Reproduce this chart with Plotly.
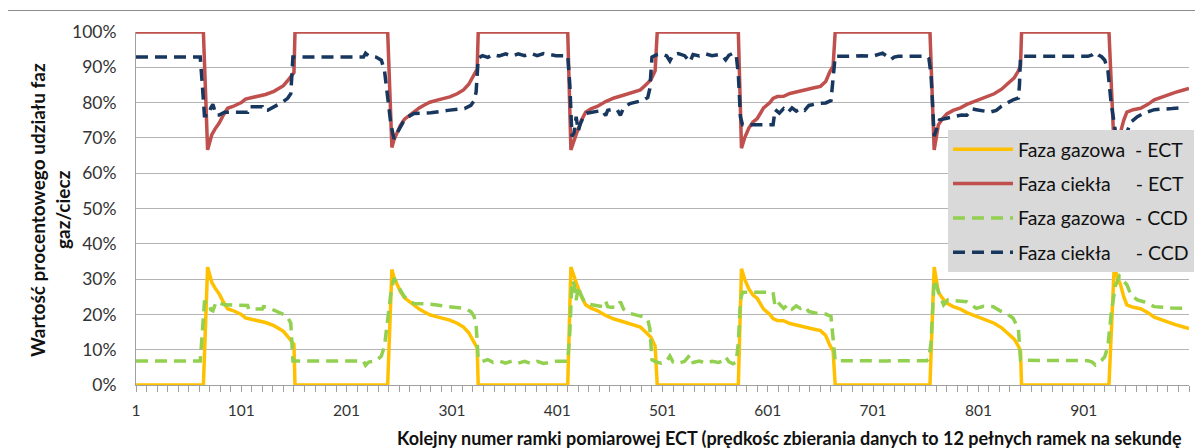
import plotly.graph_objects as go

# ---------------- data (frame number, percent) ----------------
FAZA_GAZOWA_ECT = [
    (1, 0), (65, 0), (69, 33.4), (71, 31), (73, 29.1), (76, 27.5), (80, 25.8), (84, 23.5), (88, 21.6),
    (93, 21.1), (97, 20.6), (101, 20), (105, 19), (110, 18.7), (116, 18.3), (124, 17.7), (132, 16.8),
    (137, 16), (141, 15.2), (145, 13.8), (149, 12.4), (151, 11.5), (152, 0),
    (240, 0), (244, 32.7), (246, 30.5), (249, 28.5), (252, 26.5), (256, 24.7), (260, 23.7), (265, 22.5),
    (270, 21.5), (274, 20.8), (280, 19.9), (287, 19.3), (293, 18.9), (299, 18.4), (306, 17.5), (312, 16.4),
    (317, 14.8), (322, 11.8), (325, 10.5), (326, 0),
    (411, 0), (414, 33.4), (417, 30.5), (420, 28.2), (424, 25), (428, 22.7), (433, 21.8), (439, 21.1),
    (447, 19.7), (455, 18.7), (463, 18), (471, 17.3), (480, 16.4), (485, 15), (490, 13.5), (494, 11), (496, 0),
    (573, 0), (576, 32.9), (579, 30), (583, 27.2), (587, 25.5), (591, 24.5), (597, 21.5), (603, 20),
    (606, 18.8), (610, 18.3), (616, 18.2), (622, 17.4), (628, 17), (635, 16.4), (645, 15.8), (651, 15.4),
    (656, 14), (660, 11.2), (663, 9.7), (665, 0),
    (755, 0), (759, 33.4), (761, 29.5), (763, 26.3), (767, 24.5), (771, 23.2), (777, 22.2), (784, 21.5),
    (790, 20.5), (796, 19.8), (803, 19.2), (809, 18.5), (816, 17.5), (823, 16.2), (829, 14.5), (835, 13),
    (839, 11), (841, 9.5), (842, 0),
    (925, 0), (930, 33.6), (933, 30.5), (936, 28.4), (939, 25), (942, 22.7), (948, 22), (955, 21.6),
    (962, 20.5), (968, 19.2), (974, 18.5), (980, 17.8), (988, 17.1), (995, 16.5), (1001, 16),
]

FAZA_CIEKLA_ECT = [
    (1, 100), (65, 100), (69, 66.6), (71, 69), (73, 70.9), (76, 72.5), (80, 74.2), (84, 76.5), (88, 78.4),
    (93, 78.9), (97, 79.4), (101, 80), (105, 81), (110, 81.3), (116, 81.7), (124, 82.3), (132, 83.2),
    (137, 84), (141, 84.8), (145, 86.2), (149, 87.6), (151, 88.5), (152, 100),
    (240, 100), (244, 67.3), (246, 69.5), (249, 71.5), (252, 73.5), (256, 75.3), (260, 76.3), (265, 77.5),
    (270, 78.5), (274, 79.2), (280, 80.1), (287, 80.7), (293, 81.1), (299, 81.6), (306, 82.5), (312, 83.6),
    (317, 85.2), (322, 88.2), (325, 89.5), (326, 100),
    (411, 100), (414, 66.6), (417, 69.5), (420, 71.8), (424, 75), (428, 77.3), (433, 78.2), (439, 78.9),
    (447, 80.3), (455, 81.3), (463, 82), (471, 82.7), (480, 83.6), (485, 85), (490, 86.5), (494, 89), (496, 100),
    (573, 100), (576, 67.1), (579, 70), (583, 72.8), (587, 74.5), (591, 75.5), (597, 78.5), (603, 80),
    (606, 81.2), (610, 81.7), (616, 81.8), (622, 82.6), (628, 83), (635, 83.6), (645, 84.2), (651, 84.6),
    (656, 86), (660, 88.8), (663, 90.3), (665, 100),
    (755, 100), (759, 66.6), (761, 70.5), (763, 73.7), (767, 75.5), (771, 76.8), (777, 77.8), (784, 78.5),
    (790, 79.5), (796, 80.2), (803, 80.8), (809, 81.5), (816, 82.5), (823, 83.8), (829, 85.5), (835, 87),
    (839, 89), (841, 90.5), (842, 100),
    (925, 100), (930, 66.4), (933, 69.5), (936, 71.6), (939, 75), (942, 77.3), (948, 78), (955, 78.4),
    (962, 79.5), (968, 80.8), (974, 81.5), (980, 82.2), (988, 82.9), (995, 83.5), (1001, 84),
]

FAZA_GAZOWA_CCD = [
    (1, 6.8), (62, 6.8), (64, 15), (66, 23.5), (70, 23.5), (72, 21.3), (74, 21), (77, 23.5), (80, 23.3),
    (85, 22.7), (107, 22.5), (108, 21.5), (121, 21.5), (122, 22.2), (126, 22), (131, 21.4), (136, 20.8),
    (141, 20), (145, 19.2), (148, 17.5), (150, 6.8),
    (217, 6.8), (219, 5.6), (222, 6.5), (229, 6.8), (234, 8.2), (237, 11), (240, 18), (243, 26), (246, 30.3),
    (248, 29), (251, 27.5), (255, 25.4), (259, 24.1), (265, 23.1), (281, 22.9), (297, 22.2), (313, 21.7),
    (319, 20.8), (322, 19.5), (324, 17), (326, 7.4),
    (330, 6.7), (335, 7.2), (340, 6.4), (346, 6.8), (352, 6.2), (358, 6.8), (364, 6.2), (370, 6.7),
    (376, 6.1), (382, 6.7), (388, 6.1), (394, 6.5), (400, 6.7), (411, 6.7),
    (413, 15), (415, 29.6), (417, 28.5), (419, 24), (421, 28), (423, 26), (426, 24), (429, 23), (436, 22.7),
    (444, 22.2), (447, 23.7), (449, 22.2), (452, 22), (458, 22), (461, 23.6), (464, 21.5), (470, 20.3),
    (477, 19.8), (483, 19.3), (487, 18.5), (489, 16), (491, 7.1),
    (495, 6.5), (500, 6.2), (505, 6.8), (508, 8.2), (511, 6.5), (516, 6.1), (522, 6.7), (527, 8.5),
    (530, 6.4), (536, 6.8), (542, 6.2), (548, 6.7), (554, 6.4), (558, 6.8), (561, 7.9), (564, 6.6),
    (568, 6.0), (571, 6.5),
    (573, 12), (575, 24), (577, 26.3), (606, 26.3), (608, 22), (612, 23), (616, 21.7), (620, 22.8),
    (624, 21.5), (628, 22.4), (632, 21.7), (636, 22.2), (640, 20.8), (648, 20.3), (656, 20.1), (661, 19.4),
    (663, 14), (665, 6.9),
    (680, 6.9), (690, 6.8), (700, 6.9), (706, 6.8), (710, 6.8), (714, 6.8), (718, 6.9), (725, 6.9),
    (740, 6.9), (752, 6.9), (754, 7.5),
    (756, 12), (759, 29.8), (761, 28), (763, 26.5), (768, 22.7), (772, 24.1), (790, 23.6), (799, 21.7),
    (806, 22.3), (815, 22.2), (823, 20.8), (829, 20), (834, 18.9), (839, 16), (841, 7),
    (905, 6.9), (909, 6.5), (912, 5.7), (915, 6.5), (918, 7), (921, 8), (924, 11), (927, 20), (931, 28),
    (935, 30.8), (942, 28.4), (946, 25.5), (952, 24.1), (958, 23.6), (968, 22.2), (985, 21.8), (997, 21.7),
]

FAZA_CIEKLA_CCD = [
    (1, 92.9), (62, 92.9), (64, 85), (66, 76.3), (70, 76.3), (72, 78.5), (74, 79.5), (77, 76.5), (80, 76.5),
    (85, 77.3), (107, 77.3), (108, 78.8), (121, 78.8), (122, 77.8), (126, 77.8), (131, 78.6), (136, 79.4),
    (141, 80.3), (145, 81.2), (148, 82.5), (150, 92.9),
    (217, 92.9), (219, 94), (222, 93.2), (229, 92.9), (234, 92), (237, 89), (240, 82), (243, 74), (246, 69.7),
    (248, 71), (251, 72.5), (255, 74.6), (259, 75.9), (265, 76.9), (281, 77.1), (297, 77.8), (313, 78.3),
    (319, 79.2), (322, 80.5), (324, 83), (326, 92.6),
    (330, 93.3), (335, 92.8), (340, 93.6), (346, 93.2), (352, 93.8), (358, 93.2), (364, 93.8), (370, 93.3),
    (376, 93.9), (382, 93.3), (388, 93.9), (394, 93.5), (400, 93.3), (411, 93.3),
    (413, 85), (415, 70.4), (417, 71.5), (419, 76), (421, 72), (423, 74), (426, 76), (429, 77), (436, 77.3),
    (444, 77.8), (447, 76.3), (449, 77.8), (452, 78), (458, 78), (461, 76.4), (464, 78.5), (470, 79.7),
    (477, 80.2), (483, 80.7), (487, 81.5), (489, 84), (491, 92.9),
    (495, 93.5), (500, 93.8), (505, 93.2), (508, 91.8), (511, 93.5), (516, 93.9), (522, 93.3), (527, 91.5),
    (530, 93.6), (536, 93.2), (542, 93.8), (548, 93.3), (554, 93.6), (558, 93.2), (561, 92.1), (564, 93.4),
    (568, 94.0), (571, 93.5),
    (573, 88), (575, 76), (577, 73.7), (606, 73.7), (608, 78), (612, 77), (616, 78.3), (620, 77.2),
    (624, 78.5), (628, 77.6), (632, 78.3), (636, 77.8), (640, 79.2), (648, 79.7), (656, 79.9), (661, 80.6),
    (663, 86), (665, 93.1),
    (680, 93.1), (690, 93.3), (700, 93.1), (706, 93.7), (710, 94), (714, 93.2), (718, 92.2), (721, 92.9),
    (725, 93.1), (740, 93.1), (752, 93.1), (754, 92.5),
    (756, 88), (759, 70.5), (761, 72.5), (764, 75.1), (770, 75.5), (777, 76), (785, 76.5), (790, 76.4),
    (795, 78.2), (799, 78), (806, 77.5), (812, 77.3), (818, 77.8), (823, 79), (829, 80), (834, 80.8),
    (839, 81.3), (840, 85), (841, 93.1),
    (905, 93.1), (909, 93.5), (912, 94.2), (915, 93.5), (918, 93), (921, 92), (924, 89), (927, 80), (931, 72),
    (935, 69.2), (942, 71.6), (946, 74.5), (952, 76), (958, 77), (968, 78), (985, 78.3), (997, 78.6),
]

SERIES_NAMES = [
    "Faza gazowa\u00a0\u00a0- ECT",
    "Faza ciekła\u00a0\u00a0\u00a0\u00a0\u00a0- ECT",
    "Faza gazowa\u00a0\u00a0- CCD",
    "Faza ciekła\u00a0\u00a0\u00a0\u00a0\u00a0- CCD",
]
X_TICK_VALUES = [1, 101, 201, 301, 401, 501, 601, 701, 801, 901]
Y_TICK_VALUES = [0, 10, 20, 30, 40, 50, 60, 70, 80, 90, 100]

Y_TITLE_1 = "Wartość procentowego udziału faz"
Y_TITLE_2 = "gaz/ciecz"
X_TITLE = "Kolejny numer ramki pomiarowej ECT (prędkośc zbierania danych to 12 pełnych ramek na sekundę"

# ---------------- styling ----------------
COLORS = ["#FFC000", "#C0504D", "#92D050", "#17375E"]
DASHES = ["solid", "solid", "12px,7px", "12px,7px"]
FONT = "Lato, 'Open Sans', sans-serif"

# the page body adds an 8 px offset; the chart (like the reference) runs past the right edge
OFF = 8
W, H = 1240, 440
ML, MT, MB = 128, 24, 63
MR = W - 1181
PW = W - ML - MR
PH = H - MT - MB


def px_x(p):
    """screen x (reference picture) -> paper x"""
    return (p - OFF - ML) / PW


def px_y(p):
    """screen y (reference picture) -> paper y"""
    return (H - MB - (p - OFF)) / PH


fig = go.Figure()
for name, pts, color, dash in zip(
    SERIES_NAMES,
    [FAZA_GAZOWA_ECT, FAZA_CIEKLA_ECT, FAZA_GAZOWA_CCD, FAZA_CIEKLA_CCD],
    COLORS,
    DASHES,
):
    fig.add_trace(
        go.Scatter(
            x=[p[0] for p in pts],
            y=[p[1] for p in pts],
            mode="lines",
            name=name,
            legendgroup=name,
            line=dict(color=color, width=3.5, dash=dash),
            hoverinfo="skip",
        )
    )

fig.update_layout(
    width=W,
    height=H,
    autosize=False,
    margin=dict(l=ML, r=MR, t=MT, b=MB, pad=0),
    paper_bgcolor="white",
    plot_bgcolor="white",
    font=dict(family=FONT, color="#333333"),
    showlegend=True,
    legend=dict(
        x=px_x(948),
        y=px_y(130),
        xanchor="left",
        yanchor="top",
        bgcolor="#d9d9d9",
        borderwidth=0,
        font=dict(family=FONT, size=19.5, color="#111111"),
        tracegroupgap=6,
        itemwidth=60,
    ),
    xaxis=dict(
        range=[1, 1001],
        tickmode="array",
        tickvals=X_TICK_VALUES,
        ticktext=[str(v) for v in X_TICK_VALUES],
        ticks="outside",
        ticklen=6,
        tickcolor="#a0a0a0",
        showgrid=False,
        showline=True,
        linecolor="#a0a0a0",
        linewidth=1,
        zeroline=False,
        tickfont=dict(size=15.5, color="#333333"),
        minor=dict(tick0=1, dtick=10, ticks="outside", ticklen=6, tickcolor="#a0a0a0"),
        ticklabelstandoff=5,
    ),
    yaxis=dict(
        range=[0, 100],
        tickmode="array",
        tickvals=Y_TICK_VALUES,
        ticktext=[f"{v}%" for v in Y_TICK_VALUES],
        showgrid=True,
        gridcolor="#b4b4b4",
        gridwidth=1,
        showline=True,
        linecolor="#a0a0a0",
        linewidth=1,
        zeroline=False,
        ticks="",
        tickfont=dict(size=17.5, color="#333333"),
        ticklabelstandoff=15,
    ),
)

# chart area frame (cropped by the picture on the right/bottom)
fig.add_shape(
    type="rect", xref="paper", yref="paper",
    x0=px_x(7.5), x1=px_x(1260), y0=px_y(10.5), y1=px_y(480),
    line=dict(color="#8c8c8c", width=1), layer="below",
)

fig.add_annotation(
    text="<b>" + Y_TITLE_1 + "</b>", xref="paper", yref="paper",
    x=px_x(37), y=px_y(210), xanchor="center", yanchor="middle",
    textangle=-90, showarrow=False, font=dict(family=FONT, size=19, color="#111111"),
)
fig.add_annotation(
    text="<b>" + Y_TITLE_2 + "</b>", xref="paper", yref="paper",
    x=px_x(62), y=px_y(210), xanchor="center", yanchor="middle",
    textangle=-90, showarrow=False, font=dict(family=FONT, size=19, color="#111111"),
)
fig.add_annotation(
    text="<b>" + X_TITLE + "</b>", xref="paper", yref="paper",
    x=px_x(395), y=px_y(438), xanchor="left", yanchor="middle",
    showarrow=False, font=dict(family=FONT, size=18, color="#111111"),
)

fig.write_html("out.html")
